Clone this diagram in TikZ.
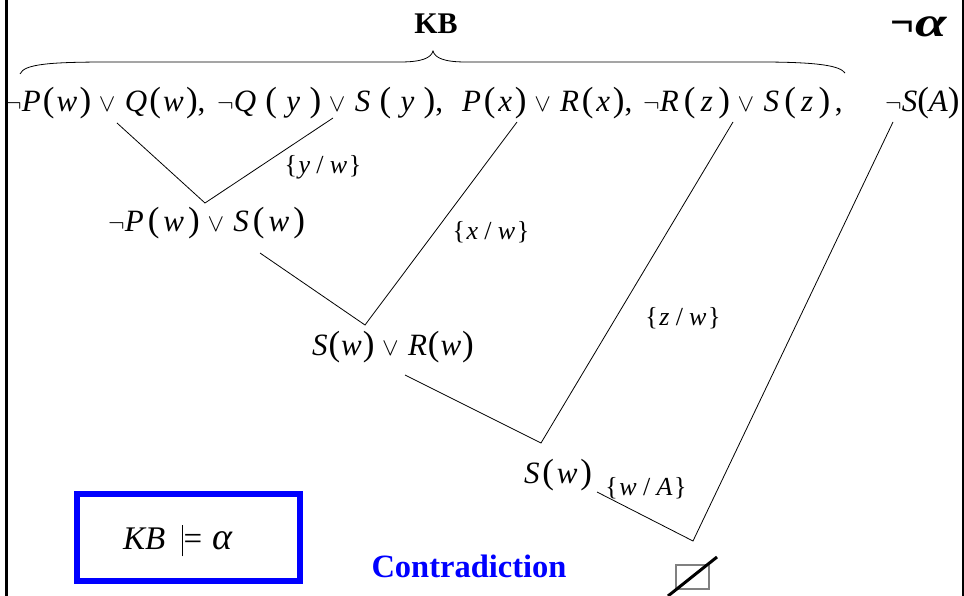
\documentclass[tikz,border=0pt]{standalone}
\usepackage{fontspec}
\usepackage{graphicx}
\setmainfont{Liberation Serif}
\newcommand{\Lp}{{\fontsize{35}{35}\selectfont(}}
\newcommand{\Rp}{{\fontsize{35}{35}\selectfont)}}
\newcommand{\fa}[3][.1em]{\textit{#2}\kern#1\Lp\kern#1\textit{#3}\kern#1\Rp}
\newcommand{\Ov}{\kern.25em$\vee$\kern.3em}
\newcommand{\Ng}{$\neg$}
\newcommand{\sub}[2]{\{\kern.06em\textit{#1}\kern.24em/\kern.24em\textit{#2}\kern.06em\}}
\tikzset{
  clause/.style={inner sep=0pt, anchor=base west, font=\fontsize{31}{33}\selectfont},
  resolvent/.style={inner sep=0pt, anchor=base west, font=\fontsize{31}{33}\selectfont},
  subst/.style={inner sep=0pt, font=\fontsize{26}{28}\selectfont},
  edge/.style={line width=0.8pt},
  bluetext/.style={inner sep=0pt, anchor=base, text=blue, font=\fontsize{32.5}{34}\selectfont\bfseries},
}
\begin{document}
\begin{tikzpicture}[x=1pt,y=-1pt]
\useasboundingbox (0,0) rectangle (964,596);
% frame sides
\draw[line width=3pt] (6,0) -- (6,596);
\draw[line width=2pt] (962.5,0) -- (962.5,596);
% titles
\node[inner sep=0pt, anchor=base, font=\fontsize{30}{32}\selectfont\bfseries] (kb) at (436,34) {KB};
\node[inner sep=0pt, anchor=base east, font=\fontsize{42}{44}\selectfont\bfseries] (na) at (948,37) {¬\kern.02em\scalebox{1.35}[1]{\textit{α}}};
% brace over the knowledge base
\draw[line width=0.8pt] (20,74) .. controls (24,64) and (50,62) .. (110,62) -- (400,62)
  .. controls (422,62) and (431,58) .. (433,51) .. controls (435,58) and (444,62) .. (466,62)
  -- (760,62) .. controls (820,62) and (840,66) .. (845,73);
% clauses
\node[clause] (c1) at (5,112) {\Ng\fa[.07em]{P}{w}\Ov\fa[.07em]{Q}{w},};
\node[clause] (c2) at (217,112) {\Ng\fa[.3em]{Q}{y}\Ov\fa[.3em]{S}{y},};
\node[clause] (c3) at (462,112) {\fa[.09em]{P}{x}\Ov\fa[.09em]{R}{x},};
\node[clause] (c4) at (643,112) {\Ng\fa[.17em]{R}{z}\Ov\fa[.17em]{S}{z}\kern.15em,};
\node[clause] (c5) at (885,112) {\Ng\textit{S}\Lp\textit{A}\Rp};
% resolvents
\node[resolvent] (r1) at (108,232) {\Ng\fa[.13em]{P}{w}\Ov\fa[.13em]{S}{w}};
\node[resolvent] (r2) at (312,355) {\fa[.03em]{S}{w}\Ov\fa[.03em]{R}{w}};
\node[resolvent] (r3) at (524,483) {\fa[.09em]{S}{w}};
% substitutions
\node[subst] (s1) at (323,167) {\sub{y}{w}};
\node[subst] (s2) at (491,232) {\sub{x}{w}};
\node[subst] (s3) at (683,318) {\sub{z}{w}};
\node[subst] (s4) at (646,488) {\sub{w}{A}};
% connector points
\coordinate (t1) at (117,123);
\coordinate (t2) at (333,118);
\coordinate (t3) at (517,122);
\coordinate (t4) at (733,122);
\coordinate (t5) at (893,122);
\coordinate (b1) at (260,253);
\coordinate (b2) at (405,375);
\coordinate (b3) at (597,492);
\coordinate (v1) at (205,203);
\coordinate (v2) at (365,325);
\coordinate (v3) at (541,443);
\coordinate (v4) at (693,541);
\draw[edge] (t1) -- (v1) -- (t2);
\draw[edge] (b1) -- (v2) -- (t3);
\draw[edge] (b2) -- (v3) -- (t4);
\draw[edge] (b3) -- (v4) -- (t5);
% empty clause
\node[draw=gray, line width=1.5pt, minimum width=33pt, minimum height=24pt, inner sep=0pt] (empty) at (692.5,577) {};
\draw[line width=3pt] (668,596) -- (717,557);
% conclusion
\node[draw=blue, line width=6pt, minimum width=223pt, minimum height=87pt, inner sep=0pt] (box) at (188.5,537.5) {};
\node[inner sep=0pt, anchor=base west, font=\fontsize{33}{35}\selectfont] (ent) at (123,549)
  {\textit{KB}\kern.5em\rule[-.22em]{.7pt}{.95em}\kern.03em=\kern.3em{\fontsize{38}{38}\selectfont\textit{α}}};
\node[bluetext] (contra) at (469,577) {Contradiction};
\end{tikzpicture}
\end{document}
